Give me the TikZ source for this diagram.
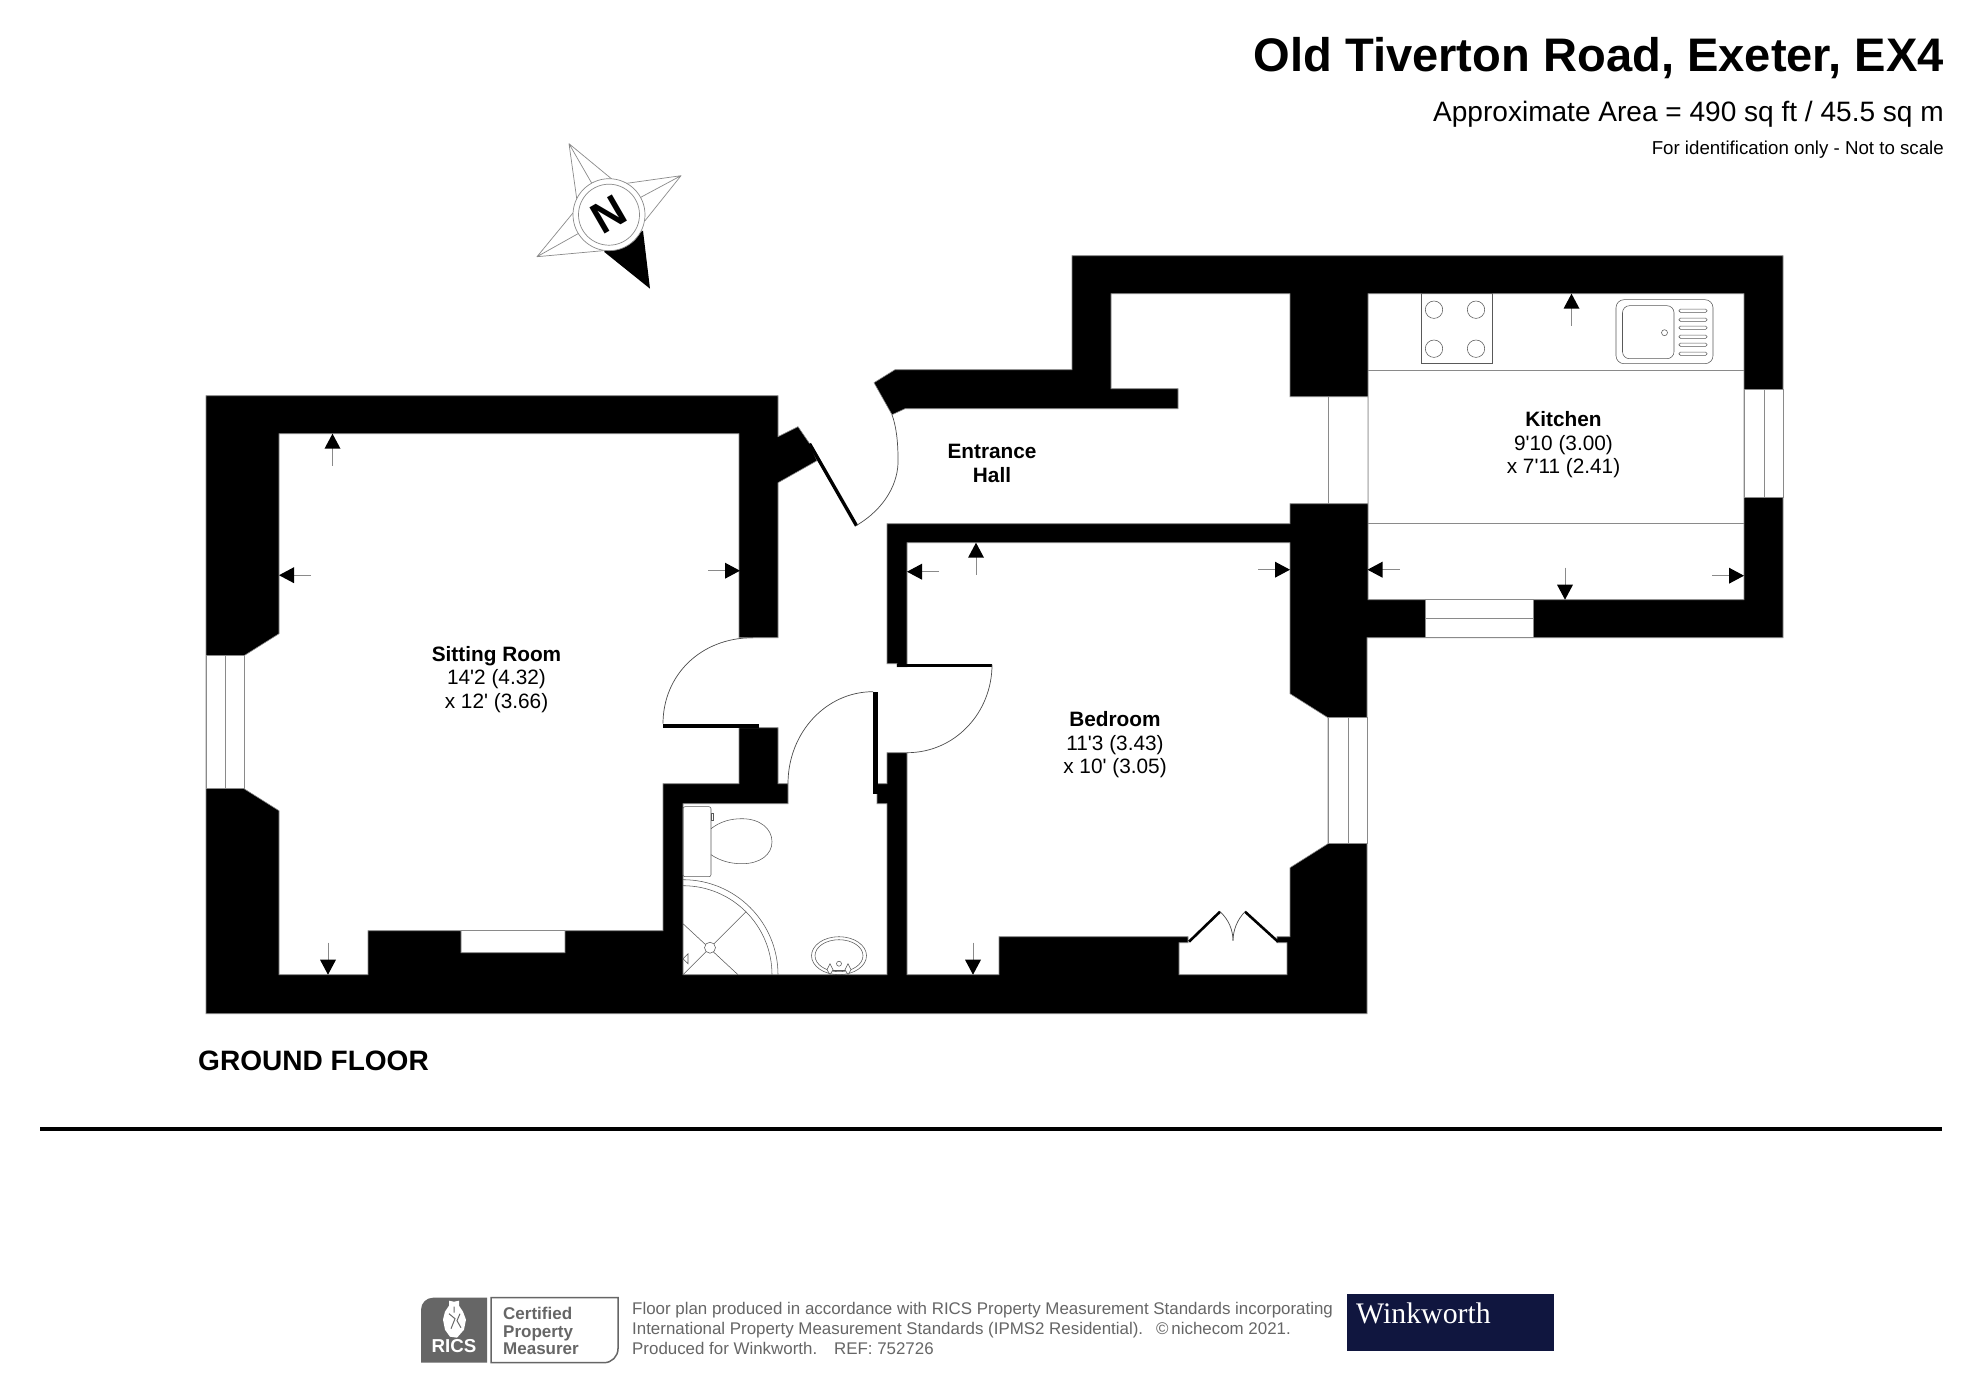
\documentclass[tikz,border=0pt]{standalone}
\usepackage{fontspec}
\setmainfont{Liberation Sans}[Ligatures=TeXOff]
\newfontfamily\wkserif{Liberation Serif}
\definecolor{edgegray}{HTML}{8A8A8A}
\definecolor{footgray}{HTML}{666666}
\definecolor{winkblue}{HTML}{10163F}
\newcommand{\dimarrow}[3]{\begin{scope}[shift={(#1,#2)},rotate=#3]
  \draw[edgegray,line width=0.9pt] (-32,0)--(-13,0);
  \fill[black] (0,0)--(-15,8)--(-15,-8)--cycle;
\end{scope}}
\tikzset{
  wallfill/.style={fill=black,draw=edgegray,line width=0.6pt,even odd rule,line join=miter},
  winbox/.style={fill=white,draw=edgegray,line width=0.9pt},
  thinline/.style={draw=edgegray,line width=0.9pt},
  fixture/.style={draw=black!65,line width=0.55pt},
  swing/.style={draw=black!70,line width=0.7pt},
  leaf/.style={fill=black},
  roomlabel/.style={align=center,font=\fontsize{20.8}{23.5}\selectfont,inner sep=0pt},
  footline/.style={anchor=base west,text=footgray,font=\fontsize{16.9}{20}\selectfont,inner sep=0pt},
  certline/.style={anchor=base west,text=footgray,font=\bfseries\fontsize{17}{20}\selectfont,inner sep=0pt},
}
\begin{document}
\begin{tikzpicture}[x=1pt,y=-1pt]
\useasboundingbox (0,0) rectangle (1976,1397);
\fill[white] (0,0) rectangle (1976,1397);
\begin{scope}[yshift=-0.7pt]

% walls: one outline that runs through the open rooms, kitchen as hole
\path[wallfill]
 (206,395)--(778,395)--(778,436)--(798,426)--(809,442)--(817,460)--(778,482)--(778,637)
 --(739,637)--(739,433)--(279,433)--(279,633)--(244,655)--(244,788)--(279,810)--(279,974)
 --(368,974)--(368,930)--(461,930)--(461,952)--(565,952)--(565,930)--(663,930)--(663,783)
 --(739,783)--(739,727)--(778,727)--(778,783)--(788,783)--(788,803)--(683,803)--(683,974)
 --(887,974)--(887,803)--(877,803)--(877,783)--(887,783)--(887,752)--(907,752)--(907,974)
 --(999,974)--(999,936)--(1188,936)--(1188,942)--(1179,942)--(1179,974)--(1287,974)--(1287,942)
 --(1277,942)--(1277,936)--(1290,936)--(1290,867)--(1328,843)--(1328,717)--(1290,693)--(1290,542)
 --(907,542)--(907,666)--(897,666)--(897,663)--(887,663)--(887,523)--(1290,523)--(1290,503)
 --(1368,503)--(1368,396)--(1290,396)--(1290,293)--(1111,293)--(1111,388)--(1178,388)--(1178,408)
 --(905,408)--(892,414)--(874,382)--(895,369)--(1072,369)--(1072,255)--(1783,255)--(1783,637)
 --(1367,637)--(1367,1013)--(206,1013)--cycle
 (1368,293)--(1744,293)--(1744,599)--(1368,599)--cycle;

% niche front line
\draw[thinline] (461,930)--(565,930);

% windows
\path[winbox] (206,655) rectangle (244,788);
\draw[thinline] (225,655)--(225,788);
\path[winbox] (1328,717) rectangle (1367,843);
\draw[thinline] (1348,717)--(1348,843);
\path[winbox] (1744,389) rectangle (1783,497);
\draw[thinline] (1764,389)--(1764,497);
\path[winbox] (1425,599) rectangle (1533,637);
\draw[thinline] (1425,618)--(1533,618);
\draw[thinline] (1328.5,396)--(1328.5,503);

% kitchen counters
\draw[thinline] (1368,369.5)--(1744,369.5);
\draw[thinline] (1368,523)--(1744,523);

% hob
\draw[fixture] (1421.5,293) rectangle (1492,363);
\foreach \cx in {1434,1476}{\foreach \cy in {309,348}{\draw[fixture] (\cx,\cy) circle[radius=8.7];}}
% sink
\draw[fixture,rounded corners=8pt] (1616,299) rectangle (1713,363);
\draw[fixture,rounded corners=7pt] (1622.5,305) rectangle (1674,358);
\draw[fixture] (1664.5,332) circle[radius=3];
\foreach \ry in {310,319,327,336,344,353}{\draw[fixture,rounded corners=1.4pt] (1679,\ry-1.6) rectangle (1707,\ry+1.6);}

% sitting room door
\path[leaf] (663,723) rectangle (759,727);
\draw[swing] (663,723) .. controls (663,675) and (700,637) .. (753,637);
% bathroom door
\path[leaf] (873,691) rectangle (877.5,793);
\draw[swing] (788,783) .. controls (788,732) and (826,691) .. (873,691);
% bedroom door
\path[leaf] (897,663) rectangle (992,666);
\draw[swing] (992,664) .. controls (992,712) and (955,752) .. (907,752);
% entrance door
\draw[black,line width=3.4pt] (809.5,443)--(856.5,525);
\draw[swing] (856,525) .. controls (885,508) and (899,482) .. (898,458) .. controls (898,440) and (896,425) .. (892,414);
% cupboard doors
\draw[black,line width=2.6pt] (1189,941)--(1220,911);
\draw[black,line width=2.6pt] (1278,941)--(1245,911);
\draw[swing] (1220,911) .. controls (1229,919) and (1233,930) .. (1233,940);
\draw[swing] (1245,911) .. controls (1237,919) and (1233,930) .. (1233,940);

% WC
\draw[fixture,rounded corners=2pt] (683,806) rectangle (711,876);
\draw[fixture] (711,813) rectangle (713,820);
\draw[fixture] (711,828) .. controls (720,821) and (730,818) .. (742,818) .. controls (760,818) and (772,828) .. (772,841) .. controls (772,854) and (760,863) .. (742,863) .. controls (730,863) and (720,860) .. (711,854);
% shower
\draw[fixture] (683,879) arc[start angle=270,end angle=360,radius=95];
\draw[fixture] (683,885) arc[start angle=270,end angle=360,radius=89];
\draw[fixture] (683,974)--(746,911);
\draw[fixture] (683,923)--(738,974);
\draw[fixture,fill=white] (710,947) circle[radius=5.5];
\draw[fixture] (683,958)--(688,953)--(688,963)--cycle;
% basin
\begin{scope}
\clip (800,930) rectangle (880,974);
\draw[fixture] (839,955) ellipse[x radius=27.5,y radius=19];
\draw[fixture] (839,955) ellipse[x radius=24,y radius=16];
\end{scope}
\draw[fixture,fill=white] (830,963)--(833,969)--(830,974)--(827,969)--cycle;
\draw[fixture,fill=white] (848,963)--(851,969)--(848,974)--(845,969)--cycle;
\draw[fixture] (833,970)--(845,970);
\draw[fixture] (839,963) circle[radius=2.5];

% dimension marks
\dimarrow{332.5}{433}{90}
\dimarrow{279}{574.5}{180}
\dimarrow{740}{570}{0}
\dimarrow{328}{974}{270}
\dimarrow{976}{542}{90}
\dimarrow{907}{571}{180}
\dimarrow{1290}{569}{0}
\dimarrow{973}{974}{270}
\dimarrow{1571.5}{293}{90}
\dimarrow{1367.5}{569}{180}
\dimarrow{1744}{575}{0}
\dimarrow{1565}{599}{270}

% compass
\draw[edgegray,line width=0.7pt,line join=round]
 (577,200)--(569,143)--(615,181) (569,143)--(592,183)
 (624,183)--(681,175)--(645,220) (681,175)--(640,197)
 (574,211)--(537,256)--(603,250) (537,256)--(578,233);
\fill[black] (643,230)--(650,288)--(604,251)--cycle;
\draw[edgegray,line width=0.7pt,fill=white] (609,214) circle[radius=36];
\draw[edgegray,line width=0.7pt,fill=white] (609,214) circle[radius=30.5];
\node[rotate=30,inner sep=0pt,font=\bfseries\fontsize{44}{44}\selectfont] (northN) at (609,214) {N};

% room labels
\node[roomlabel] (sitting) at (496.5,678.5) {\textbf{Sitting Room}\\14'2 (4.32)\\x 12' (3.66)};
\node[roomlabel] (hallroom) at (992,462.5) {\textbf{Entrance}\\\textbf{Hall}};
\node[roomlabel] (bedroom) at (1115,744) {\textbf{Bedroom}\\11'3 (3.43)\\x 10' (3.05)};
\node[roomlabel] (kitchen) at (1563.5,444) {\textbf{Kitchen}\\9'10 (3.00)\\x 7'11 (2.41)};

% headings
\node[anchor=base east,inner sep=0pt,font=\bfseries\fontsize{47.1}{47}\selectfont] (title) at (1944,70.5) {Old Tiverton Road, Exeter, EX4};
\node[anchor=base east,inner sep=0pt,font=\fontsize{28.05}{28}\selectfont] (area) at (1944,121) {Approximate Area = 490 sq ft / 45.5 sq m};
\node[anchor=base east,inner sep=0pt,font=\fontsize{18.7}{20}\selectfont] (idnote) at (1944,153.5) {For identification only - Not to scale};
\node[anchor=base west,inner sep=0pt,font=\bfseries\fontsize{28.05}{28}\selectfont] (floorname) at (198,1070) {GROUND FLOOR};

% rule
\draw[black,line width=4.5pt] (40,1128.5)--(1942,1128.5);

% RICS mark
\path[fill=footgray] (421,1362)--(421,1309) arc[start angle=180,end angle=270,radius=12]--(487,1297)--(487,1362)--cycle;
\node[anchor=base,inner sep=0pt,text=white,font=\bfseries\fontsize{18.7}{20}\selectfont] (rics) at (454,1352) {RICS};
\fill[white] (454,1301) -- (449,1300) -- (449,1305) -- (445,1311) -- (443,1319) -- (445,1329) -- (450,1336) -- (457,1337) -- (464,1329) -- (466,1319) -- (463,1311) -- (459,1305) -- (459,1300) -- cycle;
\draw[footgray,line width=1pt] (449,1313)--(455,1318)--(451,1328) (460,1313)--(457,1320)--(461,1327) (454,1306)--(454,1312);
\draw[footgray,line width=1.5pt] (491,1297)--(618,1297)--(618,1348) arc[start angle=0,end angle=90,radius=14]--(491,1362)--cycle;
\node[certline] (cert1) at (503,1319) {Certified};
\node[certline] (cert2) at (503,1337) {Property};
\node[certline] (cert3) at (503,1354) {Measurer};

% footer text
\node[footline] (foot1) at (632,1314) {Floor plan produced in accordance with RICS Property Measurement Standards incorporating};
\node[footline] (foot2) at (632,1334) {International Property Measurement Standards (IPMS2 Residential).};
\node[footline] (foot2b) at (1156,1334) {©\,nichecom 2021.};
\node[footline] (foot3) at (632,1354) {Produced for Winkworth.\ \ \ \,REF:\ 752726};

% Winkworth
\path[fill=winkblue] (1347,1293) rectangle (1554,1350);
\node[anchor=base west,inner sep=0pt,text=white,font=\wkserif\fontsize{29.8}{30}\selectfont] (wink) at (1356,1323) {Winkworth};
\end{scope}
\end{tikzpicture}
\end{document}
